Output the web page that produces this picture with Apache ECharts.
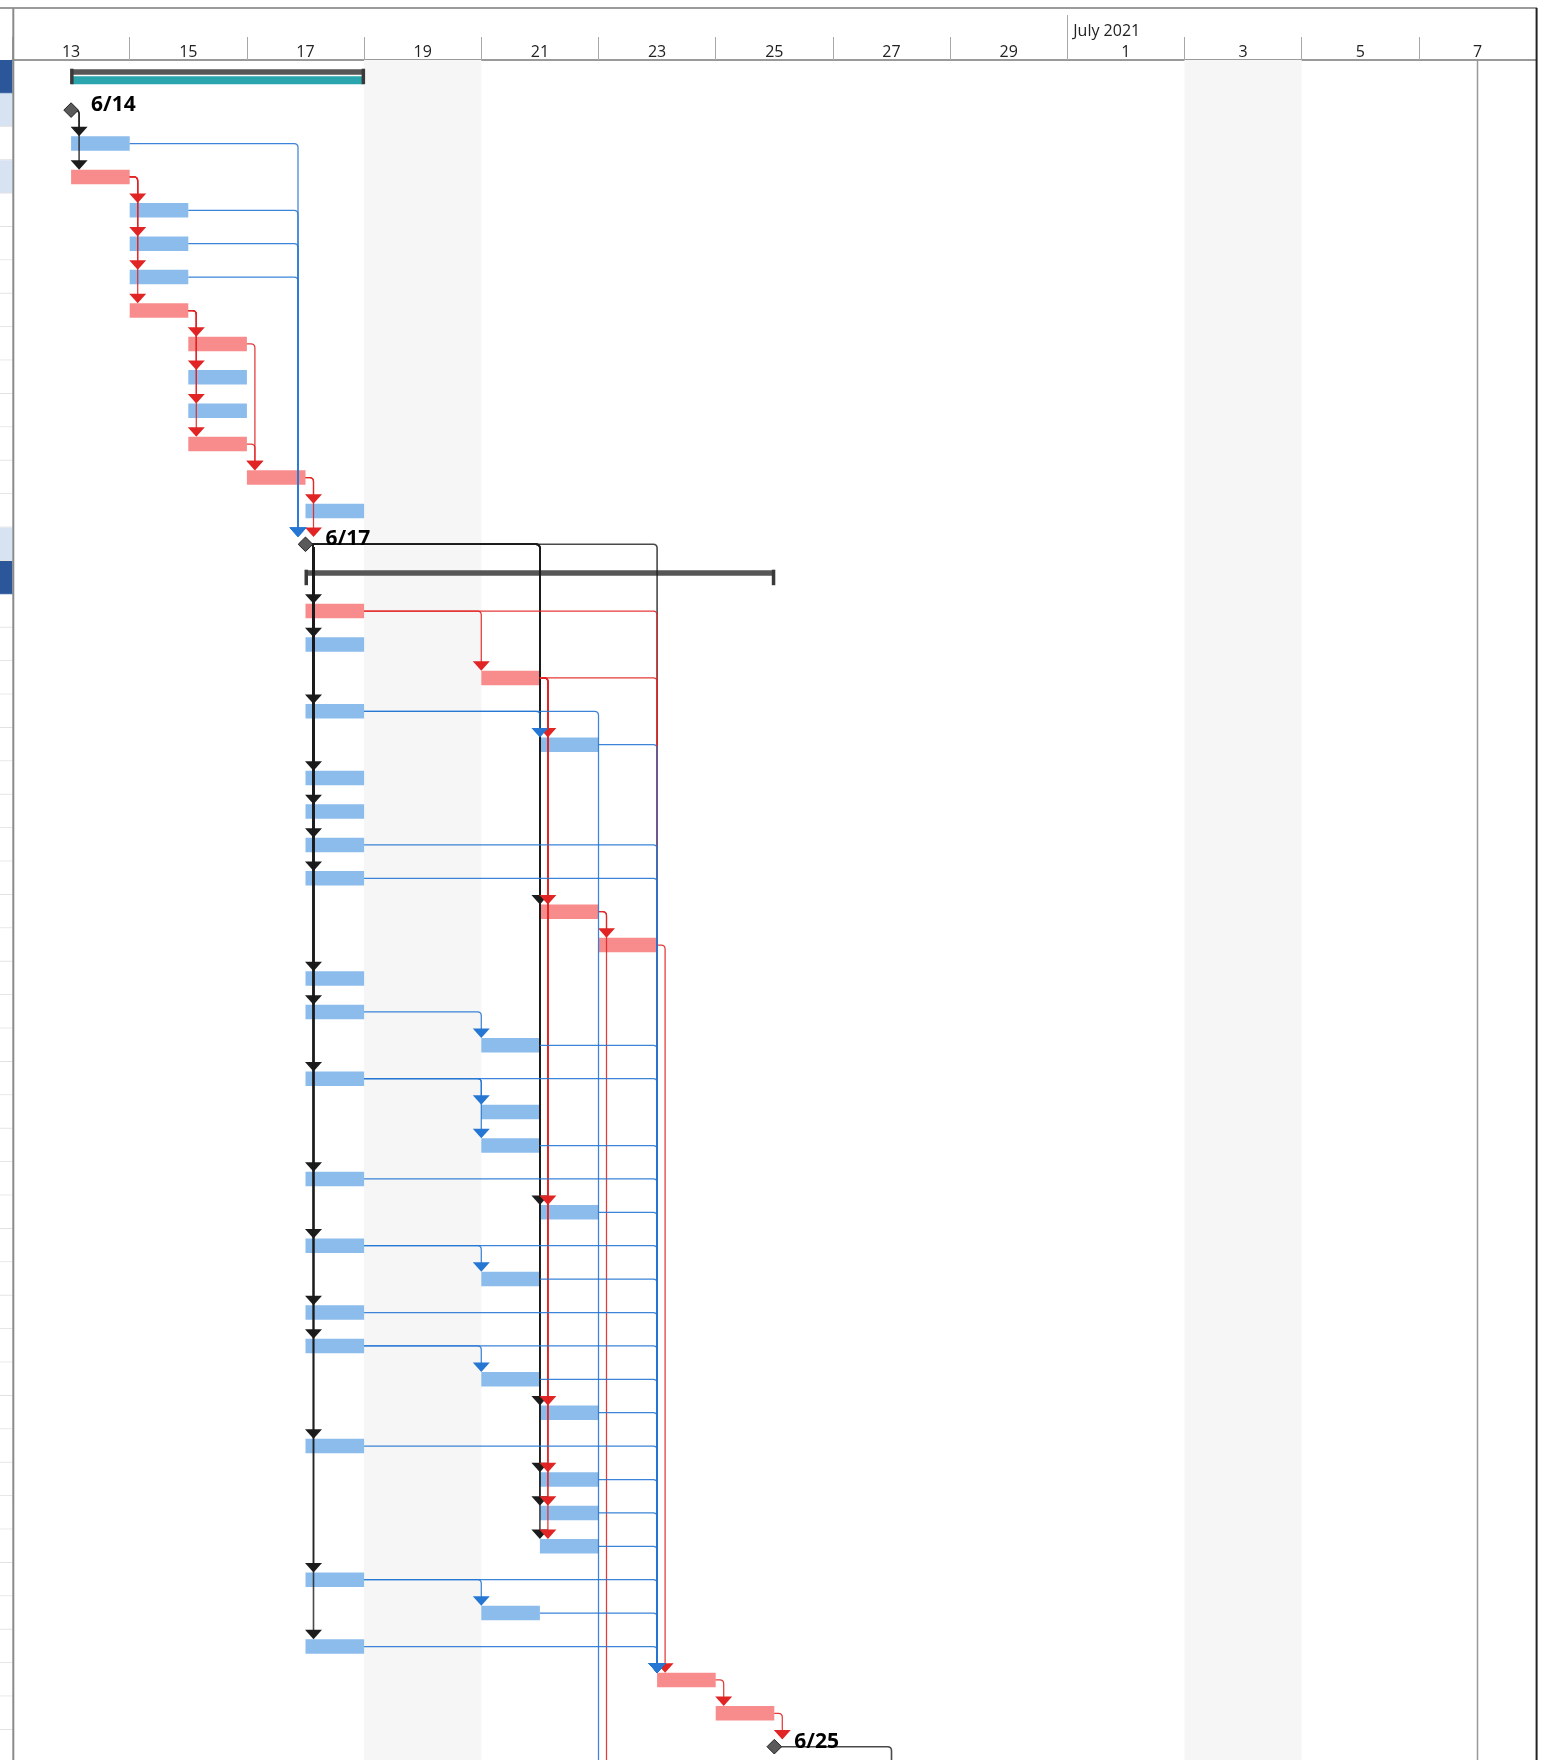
<!DOCTYPE html>
<html><head><meta charset="utf-8">
<script src="https://cdn.jsdelivr.net/npm/echarts@6/dist/echarts.min.js"></script>
<style>html,body{margin:0;padding:0;background:#fff}#c{width:1561px;height:1760px}</style>
</head><body><div id="c"></div><script>
// ---------------- data ----------------
const axisStart = '2021-06-13';
const axisEnd = '2021-07-09';
const dayLabels = ['13','15','17','19','21','23','25','27','29','1','3','5','7'];
const monthStarts = ['2021-07-01'];
const monthLabels = ['July 2021'];
const weekendStarts = ['2021-06-19','2021-07-03'];
const statusDate = '2021-07-08';

// kind: sum = summary, ms = milestone, n = task, c = critical task
const taskKinds = ['sum','ms','n','c','n','n','n','c','c','n','n','c','c','n','ms','sum','c','n','c','n','n','n','n','n','n','c','c','n','n','n','n','n','n','n','n','n','n','n','n','n','n','n','n','n','n','n','n','n','c','c','ms','n','c','n'];
const taskStarts = ['2021-06-14','2021-06-14','2021-06-14','2021-06-14','2021-06-15','2021-06-15','2021-06-15','2021-06-15','2021-06-16','2021-06-16','2021-06-16','2021-06-16','2021-06-17','2021-06-18','2021-06-18','2021-06-18','2021-06-18','2021-06-18','2021-06-21','2021-06-18','2021-06-22','2021-06-18','2021-06-18','2021-06-18','2021-06-18','2021-06-22','2021-06-23','2021-06-18','2021-06-18','2021-06-21','2021-06-18','2021-06-21','2021-06-21','2021-06-18','2021-06-22','2021-06-18','2021-06-21','2021-06-18','2021-06-18','2021-06-21','2021-06-22','2021-06-18','2021-06-22','2021-06-22','2021-06-22','2021-06-18','2021-06-21','2021-06-18','2021-06-24','2021-06-25','2021-06-26','2021-06-23','2021-06-23','2021-06-28'];
const taskEnds = ['2021-06-19','2021-06-14','2021-06-15','2021-06-15','2021-06-16','2021-06-16','2021-06-16','2021-06-16','2021-06-17','2021-06-17','2021-06-17','2021-06-17','2021-06-18','2021-06-19','2021-06-18','2021-06-26','2021-06-19','2021-06-19','2021-06-22','2021-06-19','2021-06-23','2021-06-19','2021-06-19','2021-06-19','2021-06-19','2021-06-23','2021-06-24','2021-06-19','2021-06-19','2021-06-22','2021-06-19','2021-06-22','2021-06-22','2021-06-19','2021-06-23','2021-06-19','2021-06-22','2021-06-19','2021-06-19','2021-06-22','2021-06-23','2021-06-19','2021-06-23','2021-06-23','2021-06-23','2021-06-19','2021-06-22','2021-06-19','2021-06-25','2021-06-26','2021-06-26','2021-06-24','2021-06-24','2021-06-29'];
const summaryProgress = [1, 0]; // for the summary rows, in order
const milestoneLabels = ['6/14','6/17','6/25']; // for the milestone rows, in order
const tableShadeRows = [1, 3, 14];

const links = [
 [1,2],[1,3],
 [2,14],[4,14],[5,14],[6,14],
 [3,4],[3,5],[3,6],[3,7],
 [7,8],[7,9],[7,10],[7,11],
 [8,12],[11,12],
 [12,13],[12,14],
 [14,16],[14,17],[14,19],[14,21],[14,22],[14,23],[14,24],[14,27],[14,28],[14,30],[14,33],[14,35],[14,37],[14,38],[14,41],[14,45],[14,47],
 [14,25],[14,34],[14,40],[14,42],[14,43],[14,44],[14,48],
 [16,18],[16,48],
 [18,20],[18,25],[18,34],[18,40],[18,42],[18,43],[18,44],[18,48],
 [19,20],[19,51],
 [20,48],[23,48],[24,48],
 [25,26],[25,52],[26,48],
 [28,29],[29,48],
 [30,31],[30,32],[30,48],[32,48],[33,48],[34,48],
 [35,36],[35,48],[36,48],[37,48],
 [38,39],[38,48],[39,48],[40,48],[41,48],[42,48],[43,48],[44,48],
 [45,46],[45,48],[46,48],[47,48],
 [48,49],[49,50],[50,53]
];

// ---------------- layout / style ----------------
const W = 1561, H = 1760;
const GRID = {left: 12.5, right: 24.9, top: 60, bottom: 0};
const ROW_H = 33.4;
const Y_MIN = -0.5, Y_MAX = -0.5 + (H - GRID.top - GRID.bottom) / ROW_H;
const C = {
  blueBar: '#8BBCEC', redBar: '#F88C8C', sumBar: '#565656', teal: '#2AA5AE',
  bracket: '#3a3a3a', msFill: '#5A5A5A', msStroke: '#222',
  linkBlack: '#1c1c1c', linkBlue: '#2677D3', linkRed: '#E12424',
  weekend: '#F6F6F6', status: '#9a9a9a',
  tableDark: '#2B579A', tableLight: '#D7E2F3', tableLine: '#E2E2E2'
};
const FONT = '"Open Sans", "Noto Sans", sans-serif';

function t(s){const p=s.split('-').map(Number);return new Date(p[0],p[1]-1,p[2]).getTime();}
const DAY = 86400000;

// derived lookups
const sumIdx = [], msIdx = [];
taskKinds.forEach((k,i)=>{ if(k==='sum') sumIdx.push(i); if(k==='ms') msIdx.push(i); });
function progressOf(i){ const j = sumIdx.indexOf(i); return j>=0 ? summaryProgress[j] : 0; }
function msLabelOf(i){ const j = msIdx.indexOf(i); return j>=0 ? milestoneLabels[j] : ''; }
function linkColor(a){ const k = taskKinds[a]; return k==='ms' ? C.linkBlack : (k==='c' ? C.linkRed : C.linkBlue); }

const tasksData = taskKinds.map((k,i)=>[t(taskStarts[i]), t(taskEnds[i]), i]);
const order = {ms:0, sum:0, c:1, n:2};
const linksData = links.slice().sort((p,q)=>order[taskKinds[p[0]]]-order[taskKinds[q[0]]])
  .map(([a,b])=>[t(taskEnds[a]), a, b]);

// category list for month axis (day boundaries)
const dayPoints = [];
for(let d=t(axisStart); d<=t(axisEnd)+1000; d+=DAY){ const dt=new Date(d); dayPoints.push(dt.getFullYear()+'-'+String(dt.getMonth()+1).padStart(2,'0')+'-'+String(dt.getDate()).padStart(2,'0')); }
const monthIndex = monthStarts.map(m=>dayPoints.indexOf(m));

// ---------------- renderers ----------------
function renderWeekend(params, api){
  const s = api.value(0);
  const p0 = api.coord([s, Y_MIN]), p1 = api.coord([s + 2*DAY, Y_MAX]);
  return {type:'rect', shape:{x:p0[0], y:p0[1], width:p1[0]-p0[0], height:p1[1]-p0[1]}, style:{fill:C.weekend}};
}
function renderStatus(params, api){
  const s = api.value(0);
  const p0 = api.coord([s, Y_MIN]), p1 = api.coord([s, Y_MAX]);
  return {type:'line', shape:{x1:p0[0], y1:p0[1], x2:p1[0], y2:p1[1]}, style:{stroke:C.status, lineWidth:1.5}};
}
function renderTable(params, api){
  const i = api.value(1);
  const top = api.coord([api.value(0), i-0.5])[1], bot = api.coord([api.value(0), i+0.5])[1];
  const k = taskKinds[i];
  const fill = k==='sum' ? C.tableDark : (tableShadeRows.indexOf(i)>=0 ? C.tableLight : '#fff');
  return {type:'group', children:[
    {type:'rect', shape:{x:0, y:top, width:GRID.left, height:bot-top}, style:{fill}},
    {type:'line', shape:{x1:0, y1:bot-0.5, x2:GRID.left, y2:bot-0.5}, style:{stroke: k==='sum'?'#4a6fa8':C.tableLine, lineWidth:1}}
  ]};
}
function renderTask(params, api){
  const i = api.value(2), k = taskKinds[i];
  const p0 = api.coord([api.value(0), i]), p1 = api.coord([api.value(1), i]);
  const cy = p0[1], x0 = p0[0], x1 = p1[0];
  if(k==='n' || k==='c'){
    return {type:'rect', shape:{x:x0, y:cy-7.25, width:x1-x0, height:14.5}, style:{fill: k==='n'?C.blueBar:C.redBar}};
  }
  if(k==='sum'){
    const ch = [{type:'rect', shape:{x:x0, y:cy-7.5, width:x1-x0, height:5.5}, style:{fill:C.sumBar}}];
    if(progressOf(i)>0) ch.push({type:'rect', shape:{x:x0, y:cy-0.5, width:(x1-x0)*progressOf(i), height:8}, style:{fill:C.teal}});
    ch.push({type:'rect', shape:{x:x0-1, y:cy-8, width:3.5, height:15.5}, style:{fill:C.bracket}});
    ch.push({type:'rect', shape:{x:x1-2.5, y:cy-8, width:3.5, height:15.5}, style:{fill:C.bracket}});
    return {type:'group', children:ch};
  }
  return null;
}
function renderMilestone(params, api){
  const i = api.value(2);
  if(taskKinds[i]!=='ms') return null;
  const p = api.coord([api.value(0), i]);
  const x = p[0], cy = p[1], s = 7.3;
  return {type:'group', children:[
    {type:'polygon', shape:{points:[[x,cy-s],[x+s,cy],[x,cy+s],[x-s,cy]]}, style:{fill:C.msFill, stroke:C.msStroke, lineWidth:1}},
    {type:'text', x:x+20, y:cy-5, style:{text:msLabelOf(i), font:'bold 21px '+FONT, fill:'#000', align:'left', verticalAlign:'middle'}}
  ]};
}
function renderLink(params, api){
  const a = api.value(1), b = api.value(2);
  const ka = taskKinds[a], kb = taskKinds[b];
  const pa = api.coord([ka==='ms' ? t(taskStarts[a]) : t(taskEnds[a]), a]);
  const pb = api.coord([t(taskStarts[b]), b]);
  const exitX = pa[0], y0 = pa[1];
  let sx = pb[0], tipY;
  if(kb==='ms'){ sx -= 7.5; tipY = pb[1]-7.3; } else { tipY = pb[1]-7.25; }
  const dx = (sx >= exitX + 8) ? sx : exitX + 8;
  const r = 4, ah = 9.5, aw = 8.5;
  const col = linkColor(a);
  const isBlack = ka==='ms';
  const d = 'M'+exitX+' '+y0+' L'+(dx-r)+' '+y0+' Q'+dx+' '+y0+' '+dx+' '+(y0+r)+' L'+dx+' '+(tipY-ah+1);
  return {type:'group', children:[
    {type:'path', shape:{pathData:d}, style:{stroke:col, fill:null, lineWidth:isBlack?1.6:1.25, opacity:isBlack?0.8:0.9}},
    {type:'polygon', shape:{points:[[dx-aw,tipY-ah],[dx+aw,tipY-ah],[dx,tipY]]}, style:{fill:col}}
  ]};
}

// ---------------- chart ----------------
const chart = echarts.init(document.getElementById('c'), null, {renderer:'canvas', width:W, height:H});
const gridRight = W - GRID.right;
chart.setOption({
  animation:false,
  backgroundColor:'#fff',
  grid:{left:GRID.left, right:GRID.right, top:GRID.top, bottom:GRID.bottom, containLabel:false},
  xAxis:[
    {type:'time', min:t(axisStart), max:t(axisEnd), show:false},
    {type:'category', data:dayLabels, position:'top', boundaryGap:true,
     axisLine:{show:true, lineStyle:{color:'#9a9a9a', width:2}},
     axisTick:{show:true, length:23, lineStyle:{color:'#a8a8a8', width:1}},
     axisLabel:{show:true, interval:0, margin:0, color:'#222', fontSize:16, fontFamily:FONT},
     splitLine:{show:false}},
    {type:'category', data:dayPoints, position:'top', boundaryGap:false,
     axisLine:{show:false},
     axisTick:{show:true, length:45, interval:(idx)=>monthIndex.indexOf(idx)>=0, lineStyle:{color:'#a8a8a8', width:1}},
     axisLabel:{show:true, interval:0, margin:21, align:'left', padding:[0,0,0,6], color:'#222', fontSize:16, fontFamily:FONT,
       formatter:(v, idx)=>{const j = monthStarts.indexOf(v); return j>=0 ? monthLabels[j] : '';}},
     splitLine:{show:false}}
  ],
  yAxis:{type:'value', inverse:true, min:Y_MIN, max:Y_MAX, show:false, splitLine:{show:false}},
  graphic:[
    {type:'line', shape:{x1:0, y1:8, x2:gridRight+1, y2:8}, style:{stroke:'#7a7a7a', lineWidth:1.5}, z:100},
    {type:'line', shape:{x1:GRID.left+0.8, y1:8, x2:GRID.left+0.8, y2:H}, style:{stroke:'#8a8a8a', lineWidth:2}, z:100},
    {type:'line', shape:{x1:gridRight+0.5, y1:8, x2:gridRight+0.5, y2:H}, style:{stroke:'#222', lineWidth:2}, z:100}
  ],
  series:[
    {type:'custom', name:'weekend', xAxisIndex:0, yAxisIndex:0, renderItem:renderWeekend, data:weekendStarts.map(s=>[t(s), 0]), encode:{x:0, y:1}, z:1, silent:true},
    {type:'custom', name:'status', xAxisIndex:0, yAxisIndex:0, renderItem:renderStatus, data:[[t(statusDate), 0]], encode:{x:0, y:1}, z:2, silent:true},
    {type:'custom', name:'table', xAxisIndex:0, yAxisIndex:0, clip:false, renderItem:renderTable, data:taskKinds.map((k,i)=>[t(axisStart), i]), encode:{x:0, y:1}, z:2, silent:true},
    {type:'custom', name:'tasks', xAxisIndex:0, yAxisIndex:0, clip:true, renderItem:renderTask, data:tasksData, encode:{x:[0,1], y:2}, z:3},
    {type:'custom', name:'links', xAxisIndex:0, yAxisIndex:0, clip:true, renderItem:renderLink, data:linksData, encode:{x:0, y:1}, z:4},
    {type:'custom', name:'milestones', xAxisIndex:0, yAxisIndex:0, clip:true, renderItem:renderMilestone, data:tasksData, encode:{x:[0,1], y:2}, z:5}
  ]
});
</script></body></html>
